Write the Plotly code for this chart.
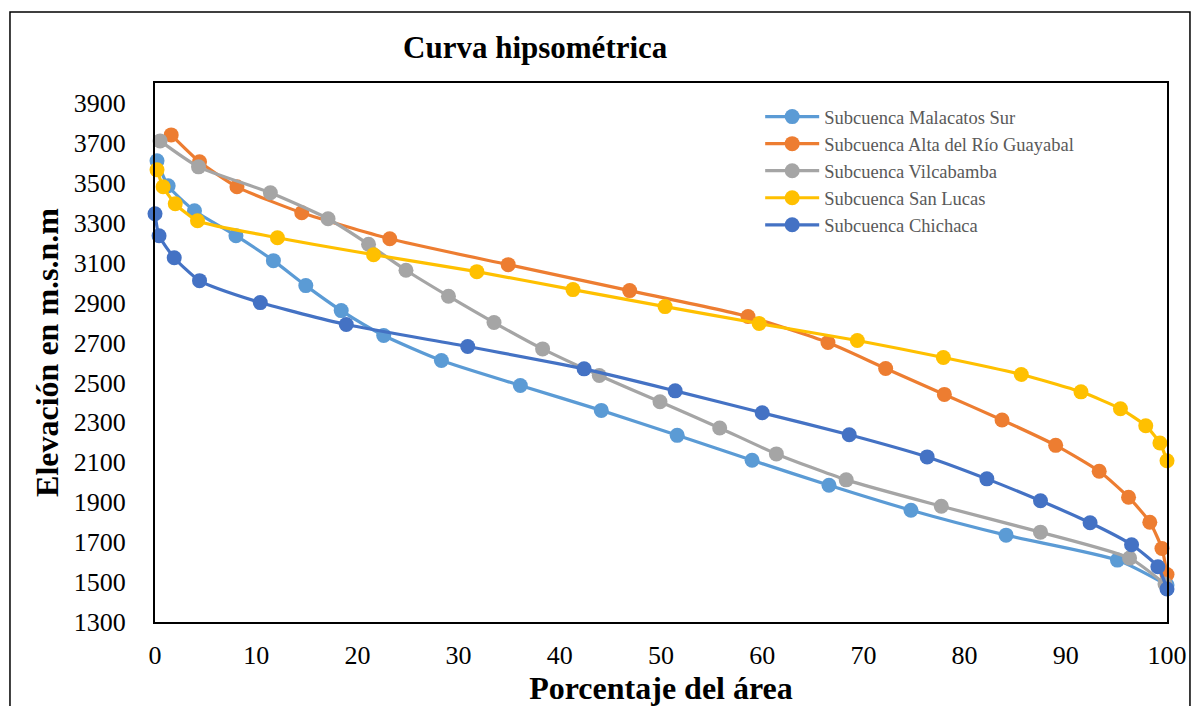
import plotly.graph_objects as go

# Curva hipsométrica: porcentaje del área acumulada vs. elevación (m.s.n.m)
malacatos_x = [0.2, 1.3, 3.9, 8.0, 11.7, 14.9, 18.4, 22.6, 28.3, 36.1, 44.1, 51.6, 59.0, 66.6, 74.7, 84.1, 95.1, 100.0]
malacatos_y = [3610, 3485, 3360, 3235, 3110, 2985, 2860, 2735, 2610, 2485, 2360, 2235, 2110, 1985, 1860, 1735, 1610, 1485]

guayabal_x = [1.6, 4.4, 8.1, 14.5, 23.2, 34.9, 46.9, 58.6, 66.5, 72.2, 78.0, 83.7, 89.0, 93.3, 96.2, 98.3, 99.5, 100.0]
guayabal_y = [3740, 3605, 3480, 3350, 3220, 3090, 2960, 2830, 2700, 2570, 2440, 2312, 2185, 2055, 1925, 1800, 1668, 1538]

vilcabamba_x = [0.5, 4.3, 11.4, 17.1, 21.1, 24.8, 29.0, 33.5, 38.3, 43.9, 49.9, 55.8, 61.4, 68.3, 77.7, 87.5, 96.3, 99.8]
vilcabamba_y = [3710, 3580, 3450, 3320, 3192, 3062, 2932, 2800, 2668, 2535, 2403, 2272, 2142, 2012, 1880, 1750, 1620, 1490]

sanlucas_x = [0.2, 0.8, 2.0, 4.2, 12.1, 21.6, 31.8, 41.3, 50.4, 59.7, 69.4, 77.9, 85.6, 91.5, 95.4, 97.9, 99.3, 100.0]
sanlucas_y = [3565, 3480, 3395, 3310, 3225, 3140, 3055, 2965, 2880, 2795, 2710, 2625, 2540, 2453, 2368, 2283, 2197, 2108]

chichaca_x = [0.0, 0.4, 1.9, 4.4, 10.4, 18.9, 30.9, 42.4, 51.4, 60.0, 68.6, 76.3, 82.2, 87.5, 92.4, 96.5, 99.1, 100.0]
chichaca_y = [3345, 3235, 3125, 3010, 2900, 2790, 2680, 2568, 2458, 2348, 2238, 2127, 2017, 1907, 1797, 1687, 1577, 1465]

series = [
    ("Subcuenca Malacatos Sur", malacatos_x, malacatos_y, "#5B9BD5"),
    ("Subcuenca Alta del Río Guayabal", guayabal_x, guayabal_y, "#ED7D31"),
    ("Subcuenca Vilcabamba", vilcabamba_x, vilcabamba_y, "#A5A5A5"),
    ("Subcuenca San Lucas", sanlucas_x, sanlucas_y, "#FFC000"),
    ("Subcuenca Chichaca", chichaca_x, chichaca_y, "#4472C4"),
]

x_ticks = list(range(0, 101, 10))
y_ticks = list(range(1300, 4000, 200))

SERIF = "Liberation Serif, Times New Roman, serif"

fig = go.Figure()
for name, xs, ys, color in series:
    fig.add_trace(go.Scatter(
        x=xs, y=ys, name=name, mode="lines+markers",
        line=dict(color=color, width=3.2, shape="spline", smoothing=0.6),
        marker=dict(color=color, size=15),
        cliponaxis=False,
    ))

fig.update_layout(
    width=1192, height=706,
    margin=dict(l=155, r=25, t=83, b=84),
    paper_bgcolor="white", plot_bgcolor="white",
    font=dict(family=SERIF, color="black"),
    showlegend=True,
    legend=dict(
        x=0.598, y=0.972, xanchor="left", yanchor="top",
        font=dict(family=SERIF, size=18.5, color="#595959"),
        bgcolor="rgba(0,0,0,0)", itemwidth=54,
    ),
    xaxis=dict(
        range=[0, 100], tickvals=x_ticks, ticks="", automargin=False,
        showgrid=False, zeroline=False,
        showline=True, linecolor="black", linewidth=2, mirror=True,
        tickfont=dict(family=SERIF, size=26, color="black"),
        ticklabelstandoff=9,
        title=dict(text="<b>Porcentaje del área</b>",
                   font=dict(family=SERIF, size=32, color="black"), standoff=12),
    ),
    yaxis=dict(
        range=[1300, 4000], tickvals=y_ticks, ticks="", automargin=False,
        showgrid=False, zeroline=False,
        showline=True, linecolor="black", linewidth=2, mirror=True,
        tickfont=dict(family=SERIF, size=26, color="black"),
        ticklabelstandoff=22,
        title=dict(text="<b>Elevación en m.s.n.m</b>",
                   font=dict(family=SERIF, size=32, color="black"), standoff=6),
    ),
    annotations=[dict(
        text="<b>Curva hipsométrica</b>", xref="paper", yref="paper",
        x=0.376, y=1.065, xanchor="center", yanchor="middle", showarrow=False,
        font=dict(family=SERIF, size=31, color="black"),
    )],
    shapes=[dict(
        type="rect", xref="paper", yref="paper",
        x0=-0.1433, x1=1.0227, y0=-0.2, y1=1.1317,
        line=dict(color="black", width=1.5), layer="below",
    )],
)

fig.write_html("out.html")
